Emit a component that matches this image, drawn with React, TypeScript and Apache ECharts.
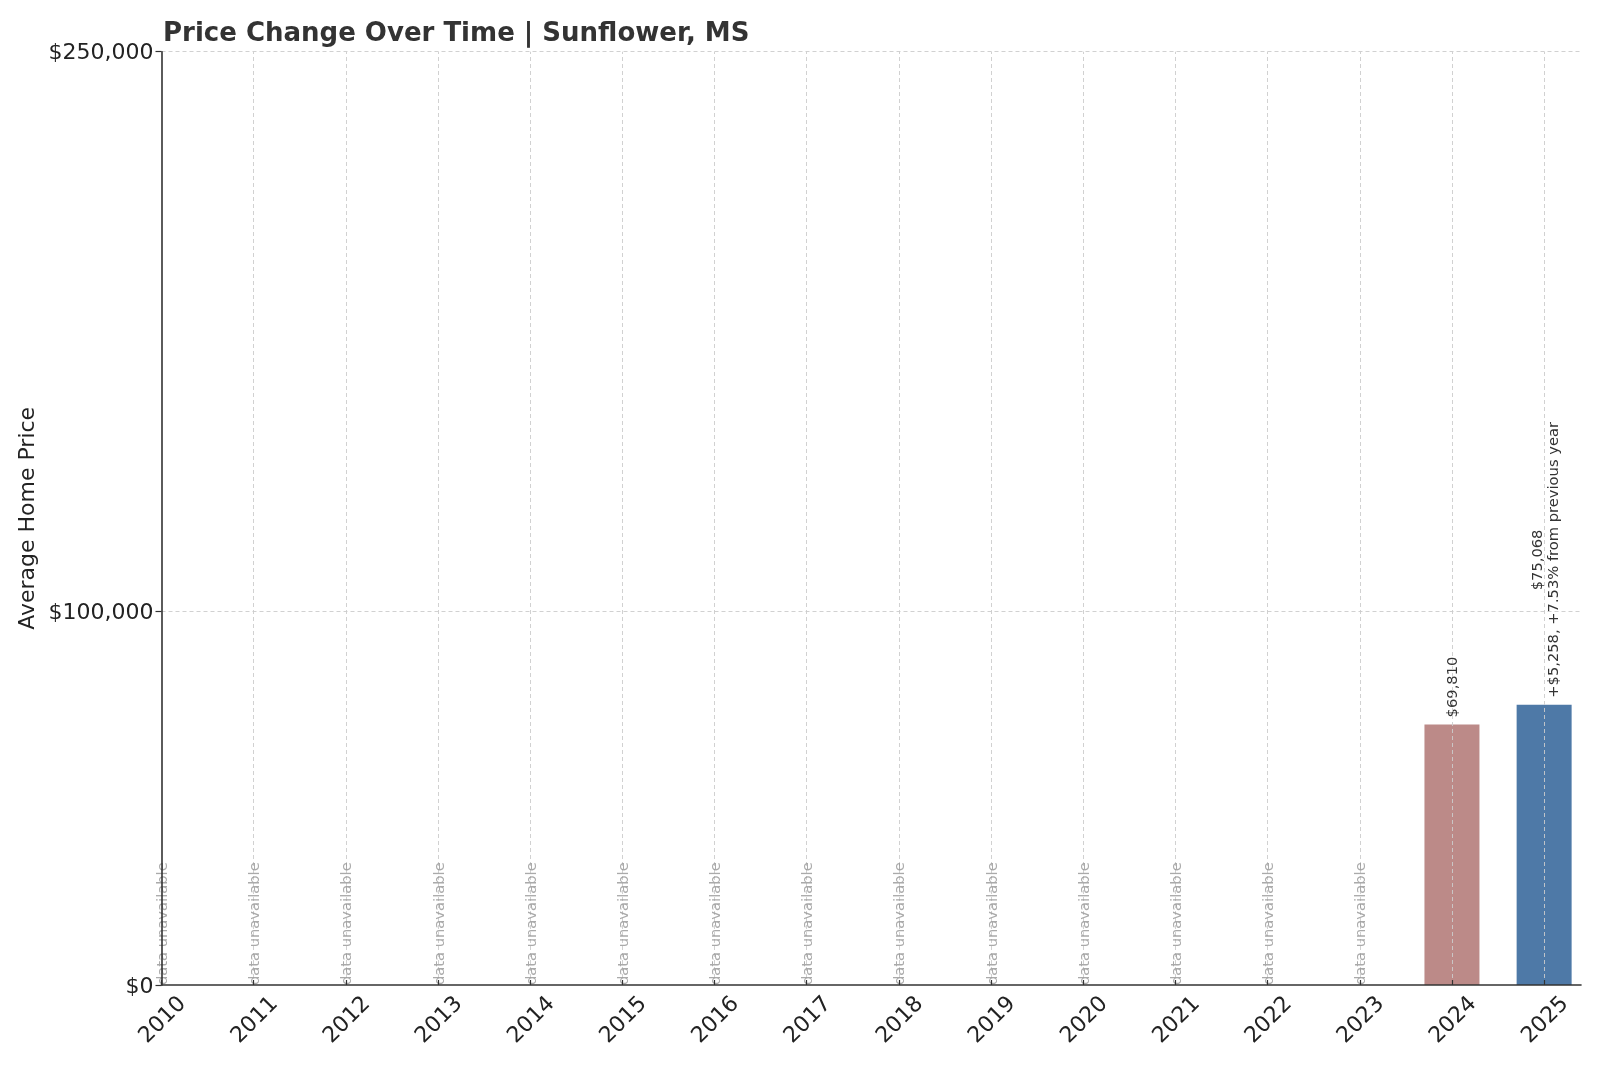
import React, { useEffect, useRef } from "react";
import * as echarts from "echarts";

const years = [2010, 2011, 2012, 2013, 2014, 2015, 2016, 2017, 2018, 2019, 2020, 2021, 2022, 2023, 2024, 2025];
const prices: (number | null)[] = [null, null, null, null, null, null, null, null, null, null, null, null, null, null, 69810, 75068];
const barColors = ["#bc8a88", "#4e79a7"];
const yTickValues = [0, 100000, 250000];
const chartTitle = "Price Change Over Time | Sunflower, MS";
const yAxisTitle = "Average Home Price";
const missingText = "data unavailable";

const money = (v: number) => "$" + Math.round(v).toLocaleString("en-US");

export default function App() {
  const ref = useRef<HTMLDivElement>(null);
  useEffect(() => {
    const chart = echarts.init(ref.current!, null, { renderer: "svg" });
    const font = "DejaVu Sans";
    const xMin = years[0];
    const xMax = years[years.length - 1] + 0.4;

    const barData: any[] = [];
    let colorIdx = 0;
    years.forEach((y, i) => {
      const v = prices[i];
      if (v == null) return;
      let text = `{a|${money(v)}}`;
      const prev = i > 0 ? prices[i - 1] : null;
      if (prev != null) {
        const diff = v - prev;
        const pct = (diff / prev) * 100;
        text += `\n{a|${diff >= 0 ? "+" : "-"}${money(Math.abs(diff))}, ${pct >= 0 ? "+" : ""}${pct.toFixed(2)}% from previous year}`;
      }
      barData.push({
        value: [y, v],
        itemStyle: { color: barColors[colorIdx++ % barColors.length] },
        label: { formatter: text },
      });
    });
    const missingData = years.filter((_, i) => prices[i] == null).map((y) => [y, 0]);

    const gridLines: any[] = [
      ...years.filter((y) => y > xMin).map((y) => ({ xAxis: y })),
      ...yTickValues.filter((v) => v > 0).map((v) => ({ yAxis: v })),
    ];

    chart.setOption({
      animation: false,
      textStyle: { fontFamily: font },
      title: {
        text: chartTitle,
        left: 158,
        top: 14,
        textStyle: { fontFamily: font, fontWeight: "bold", fontSize: 26, color: "#333333" },
      },
      grid: { left: 161.5, right: 19, top: 51.7, bottom: 82, containLabel: false },
      xAxis: {
        type: "value",
        min: xMin,
        max: xMax,
        z: 10,
        splitLine: { show: false },
        axisLine: { show: true, onZero: false, lineStyle: { color: "#333333", width: 1.6 } },
        axisTick: { show: true, inside: true, length: 5, customValues: years, lineStyle: { color: "#333333", width: 1.2 } },
        axisLabel: {
          customValues: years,
          rotate: 45,
          align: "center",
          verticalAlign: "middle",
          margin: 34,
          fontSize: 22,
          fontFamily: font,
          color: "#222222",
          formatter: (v: number) => String(v),
        },
      },
      yAxis: {
        type: "value",
        min: 0,
        max: 250000,
        z: 10,
        splitLine: { show: false },
        name: yAxisTitle,
        nameLocation: "middle",
        nameGap: 117,
        nameTextStyle: { fontSize: 22, fontFamily: font, color: "#222222" },
        axisLine: { show: true, lineStyle: { color: "#333333", width: 1.6 } },
        axisTick: { show: true, length: 6, customValues: yTickValues, lineStyle: { color: "#333333", width: 1.2 } },
        axisLabel: {
          customValues: yTickValues,
          margin: 8,
          fontSize: 22,
          fontFamily: font,
          color: "#222222",
          formatter: (v: number) => money(v),
        },
      },
      series: [
        {
          type: "bar",
          z: 2,
          barWidth: 55,
          data: barData,
          label: {
            show: true,
            position: "top",
            distance: 7,
            rotate: 90,
            align: "left",
            verticalAlign: "middle",
            rich: {
              a: { fontSize: 14.7, fontFamily: font, color: "#333333", align: "center", lineHeight: 16 },
            },
          },
        },
        {
          type: "scatter",
          z: 5,
          symbolSize: 0,
          data: missingData,
          label: {
            show: true,
            position: "inside",
            rotate: 90,
            align: "left",
            verticalAlign: "middle",
            formatter: missingText,
            fontSize: 14.7,
            fontFamily: font,
            color: "#959595",
          },
          markLine: {
            silent: true,
            symbol: ["none", "none"],
            label: { show: false },
            lineStyle: { type: [4, 3], color: "#cccccc", width: 0.9 },
            data: gridLines,
          },
        },
      ],
    });
    return () => chart.dispose();
  }, []);
  return <div ref={ref} style={{ position: "fixed", left: 0, top: 0, width: 1600, height: 1067 }} />;
}
